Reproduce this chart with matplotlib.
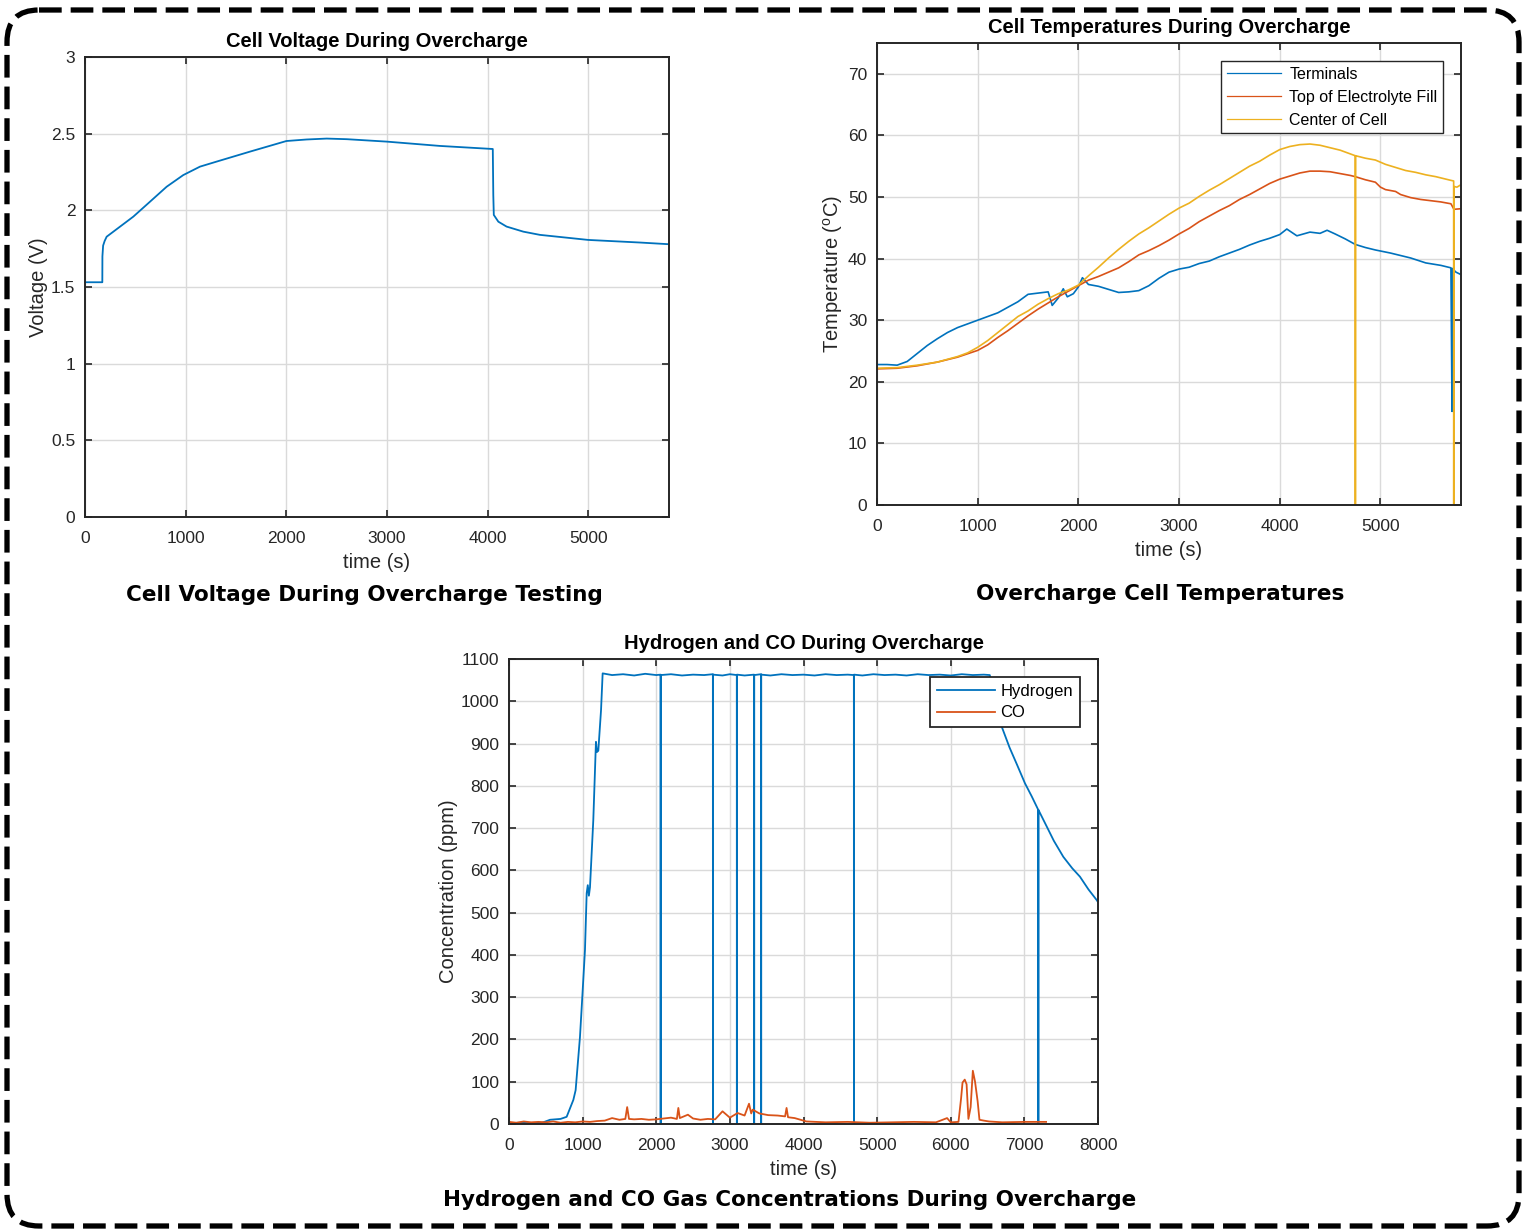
import numpy as np
import matplotlib
matplotlib.use("Agg")
import matplotlib.pyplot as plt
from matplotlib.patches import FancyBboxPatch
from matplotlib.ticker import FormatStrFormatter

plt.rcParams['font.family'] = ['Liberation Sans', 'DejaVu Sans']
plt.rcParams['mathtext.default'] = 'regular'

BLUE = '#0072BD'
RED = '#D95319'
YELLOW = '#EDB120'
DARK = '#262626'

# ---- cell voltage
volt_t = [0, 172, 173, 180, 195, 215, 300, 480, 645, 811, 976, 1142, 1308, 1639,
          2000, 2200, 2400, 2600, 3000, 3525, 4050, 4055, 4060, 4105, 4187, 4353,
          4518, 4998, 5512, 5800]
volt_v = [1.531, 1.531, 1.70, 1.77, 1.80, 1.828, 1.87, 1.959, 2.056, 2.154, 2.230,
          2.285, 2.318, 2.383, 2.452, 2.462, 2.468, 2.464, 2.448, 2.42, 2.40, 2.10,
          1.97, 1.926, 1.894, 1.861, 1.84, 1.807, 1.790, 1.779]

# ---- cell temperatures
term_t = [0, 100, 200, 300, 400, 500, 600, 700, 800, 900, 1000, 1100, 1200, 1300,
          1400, 1500, 1600, 1700, 1740, 1800, 1850, 1890, 1950, 2000, 2040, 2100,
          2200, 2300, 2400, 2500, 2600, 2700, 2800, 2900, 3000, 3100, 3200, 3300,
          3400, 3500, 3600, 3700, 3800, 3900, 4000, 4070, 4170, 4300, 4400, 4470,
          4550, 4650, 4750, 4850, 4950, 5100, 5300, 5450, 5600, 5700, 5711, 5713,
          5750, 5800]
term_v = [22.8, 22.8, 22.7, 23.3, 24.6, 25.9, 27.0, 28.0, 28.8, 29.4, 30.0, 30.6,
          31.2, 32.1, 33.0, 34.2, 34.4, 34.6, 32.4, 33.6, 35.1, 33.8, 34.3, 35.4,
          36.9, 35.8, 35.5, 35.0, 34.5, 34.6, 34.8, 35.6, 36.8, 37.8, 38.3, 38.6,
          39.2, 39.6, 40.3, 40.9, 41.5, 42.2, 42.8, 43.3, 43.9, 44.8, 43.7, 44.3,
          44.1, 44.6, 44.0, 43.2, 42.3, 41.8, 41.4, 40.9, 40.1, 39.3, 38.9, 38.5,
          15.2, 38.4, 37.8, 37.4]

fill_t = [0, 200, 400, 600, 800, 1000, 1100, 1200, 1300, 1400, 1500, 1600, 1700,
          1800, 1900, 2000, 2100, 2200, 2300, 2400, 2500, 2600, 2700, 2800, 2900,
          3000, 3100, 3200, 3300, 3400, 3500, 3600, 3700, 3800, 3900, 4000, 4100,
          4200, 4300, 4400, 4500, 4600, 4700, 4750, 4850, 4950, 5000, 5050, 5150,
          5200, 5300, 5400, 5500, 5600, 5700, 5730, 5800]
fill_v = [22.1, 22.2, 22.6, 23.2, 24.0, 25.1, 26.0, 27.2, 28.3, 29.5, 30.7, 31.8,
          32.8, 33.8, 34.7, 35.6, 36.5, 37.1, 37.8, 38.5, 39.5, 40.6, 41.3, 42.1,
          43.0, 44.0, 44.9, 46.0, 46.9, 47.8, 48.6, 49.6, 50.4, 51.3, 52.2, 52.9,
          53.4, 53.9, 54.2, 54.2, 54.1, 53.8, 53.5, 53.3, 52.8, 52.4, 51.6, 51.2,
          50.9, 50.4, 49.9, 49.6, 49.4, 49.2, 48.9, 48.0, 48.1]

center_t = [0, 200, 400, 600, 800, 900, 1000, 1100, 1200, 1300, 1400, 1500, 1600,
            1700, 1800, 1900, 2000, 2100, 2200, 2300, 2400, 2500, 2600, 2700, 2800,
            2900, 3000, 3100, 3200, 3300, 3400, 3500, 3600, 3700, 3800, 3900, 4000,
            4100, 4200, 4300, 4400, 4500, 4600, 4700, 4750, 4751, 4753, 4850, 4950,
            5050, 5150, 5250, 5350, 5450, 5550, 5650, 5700, 5727, 5728, 5730, 5760,
            5800]
center_v = [22.2, 22.3, 22.7, 23.2, 24.1, 24.7, 25.6, 26.7, 28.0, 29.3, 30.6, 31.5,
            32.6, 33.5, 34.3, 34.9, 35.7, 37.2, 38.6, 40.1, 41.5, 42.8, 44.0, 45.0,
            46.1, 47.2, 48.2, 49.0, 50.1, 51.1, 52.0, 53.0, 54.0, 55.0, 55.8, 56.8,
            57.7, 58.2, 58.5, 58.6, 58.4, 58.0, 57.6, 57.0, 56.7, 0.0, 56.7, 56.3,
            56.0, 55.3, 54.8, 54.3, 54.0, 53.6, 53.3, 52.9, 52.7, 52.6, 0.0, 51.7,
            51.6, 52.0]

# ---- gas concentrations
h2_t = [0, 150, 300, 450, 557, 700, 783, 874, 905, 964, 1001, 1032, 1055, 1070,
        1085, 1100, 1145, 1181, 1195, 1213, 1250, 1272, 1400, 1550, 1700, 1850,
        2000, 2059, 2060, 2061, 2200, 2350, 2500, 2650, 2769, 2770, 2771, 2900,
        3000, 3094, 3095, 3096, 3200, 3329, 3330, 3331, 3424, 3425, 3426, 3550,
        3700, 3850, 4000, 4150, 4300, 4450, 4600, 4684, 4685, 4686, 4800, 4950,
        5100, 5250, 5400, 5550, 5700, 5850, 6000, 6150, 6300, 6450, 6530, 6600,
        6692, 6800, 6900, 7008, 7100, 7189, 7190, 7191, 7300, 7400, 7529, 7650,
        7755, 7870, 7981, 8000]
h2_v = [2, 3, 2, 3, 10, 12, 17, 57, 80, 206, 317, 412, 546, 565, 540, 560, 719,
        904, 880, 883, 979, 1066, 1062, 1064, 1061, 1065, 1062, 1063, 0, 1062,
        1064, 1061, 1063, 1062, 1064, 0, 1063, 1061, 1064, 1062, 0, 1063, 1061,
        1063, 0, 1062, 1064, 0, 1063, 1061, 1064, 1062, 1063, 1061, 1064, 1062,
        1063, 1062, 0, 1063, 1061, 1064, 1062, 1063, 1061, 1064, 1062, 1063, 1061,
        1064, 1062, 1063, 1062, 1010, 940, 890, 850, 806, 775, 743, 0, 743, 705,
        670, 632, 605, 585, 555, 530, 525]

co_t = [0, 100, 200, 300, 400, 500, 600, 700, 800, 900, 1000, 1100, 1200, 1300,
        1400, 1500, 1580, 1605, 1630, 1700, 1800, 1900, 2000, 2100, 2200, 2280,
        2300, 2320, 2430, 2500, 2600, 2700, 2800, 2900, 3000, 3105, 3200, 3260,
        3290, 3310, 3400, 3520, 3650, 3750, 3770, 3790, 3880, 4040, 4300, 4600,
        4900, 5200, 5500, 5800, 5950, 6000, 6105, 6140, 6160, 6190, 6215, 6240,
        6270, 6300, 6330, 6365, 6390, 6450, 6520, 6700, 7000, 7295]
co_v = [5, 3, 6, 4, 5, 4, 6, 3, 5, 4, 6, 5, 7, 8, 14, 10, 12, 40, 12, 11, 12, 10,
        11, 13, 15, 12, 38, 14, 22, 13, 10, 12, 11, 30, 15, 26, 20, 48, 25, 34, 25,
        21, 20, 18, 38, 16, 14, 6, 4, 5, 3, 4, 5, 4, 14, 4, 5, 60, 98, 105, 94, 12,
        40, 126, 100, 54, 10, 8, 6, 4, 5, 5]

W, H = 1524, 1232
fig = plt.figure(figsize=(W / 100, H / 100), dpi=100)


def style(ax):
    ax.grid(True, color='#dadada', lw=1.0)
    ax.set_axisbelow(True)
    for s in ax.spines.values():
        s.set_color(DARK)
        s.set_linewidth(1.4)
    ax.tick_params(direction='in', top=True, right=True, length=5, width=1.2,
                   colors=DARK, labelsize=12.5)
    ax.tick_params(axis='x', pad=10)
    ax.tick_params(axis='y', pad=7)


def axes_px(left, top, right, bottom):
    return fig.add_axes([left / W, 1 - bottom / H, (right - left) / W, (bottom - top) / H])


def labels(ax, xl, yl, title):
    ax.set_xlabel(xl, fontsize=14.5, color=DARK, labelpad=5)
    ax.set_ylabel(yl, fontsize=14.5, color=DARK, labelpad=2)
    ax.set_title(title, fontsize=14.5, fontweight='bold', pad=7)


# background border
bg = fig.add_axes([0, 0, 1, 1], zorder=-5)
bg.set_xlim(0, W)
bg.set_ylim(H, 0)
bg.axis('off')
bg.add_patch(FancyBboxPatch((7, 10), 1512, 1216, boxstyle='round,pad=0,rounding_size=32',
                            fill=False, ec='black', lw=3.8, linestyle=(0, (4.3, 1.7))))

# voltage
ax1 = axes_px(85, 57, 669, 517)
ax1.plot(volt_t, volt_v, color=BLUE, lw=1.3)
ax1.set_xlim(0, 5800)
ax1.set_ylim(0, 3)
ax1.set_xticks([0, 1000, 2000, 3000, 4000, 5000])
ax1.set_yticks([0, 0.5, 1, 1.5, 2, 2.5, 3])
ax1.yaxis.set_major_formatter(FormatStrFormatter('%g'))
labels(ax1, 'time (s)', 'Voltage (V)', 'Cell Voltage During Overcharge')
style(ax1)

# temperatures
ax2 = axes_px(877, 43, 1461, 505)
ax2.plot(term_t, term_v, color=BLUE, lw=1.2, label='Terminals')
ax2.plot(fill_t, fill_v, color=RED, lw=1.2, label='Top of Electrolyte Fill')
ax2.plot(center_t, center_v, color=YELLOW, lw=1.2, label='Center of Cell')
ax2.set_xlim(0, 5800)
ax2.set_ylim(0, 75)
ax2.set_xticks([0, 1000, 2000, 3000, 4000, 5000])
ax2.set_yticks(range(0, 71, 10))
labels(ax2, 'time (s)', 'Temperature ($^{o}$C)', 'Cell Temperatures During Overcharge')
style(ax2)
leg2 = ax2.legend(loc='upper right', bbox_to_anchor=(0.969, 0.961), borderaxespad=0,
                  fontsize=11.5, handlelength=3.4, fancybox=False, framealpha=1,
                  edgecolor=DARK, borderpad=0.35, labelspacing=0.5, handletextpad=0.5)
for l in leg2.get_lines():
    l.set_linewidth(0.9)
leg2.get_frame().set_linewidth(1.0)

# gases
ax3 = axes_px(509, 659, 1098, 1124)
ax3.plot(h2_t, h2_v, color=BLUE, lw=1.3, label='Hydrogen')
ax3.plot(co_t, co_v, color=RED, lw=1.3, label='CO')
ax3.set_xlim(0, 8000)
ax3.set_ylim(0, 1100)
ax3.set_xticks(range(0, 8001, 1000))
ax3.set_yticks(range(0, 1101, 100))
labels(ax3, 'time (s)', 'Concentration (ppm)', 'Hydrogen and CO During Overcharge')
style(ax3)
leg3 = ax3.legend(loc='upper right', bbox_to_anchor=(0.969, 0.961), borderaxespad=0,
                  fontsize=12, handlelength=3.5, fancybox=False, framealpha=1,
                  edgecolor=DARK, borderpad=0.4, labelspacing=0.4, handletextpad=0.3)
leg3.get_frame().set_linewidth(1.3)

# captions
cap = dict(fontsize=15.5, fontweight='bold', family='DejaVu Sans', ha='center', va='center')
fig.text(364 / W, 1 - 595 / H, 'Cell Voltage During Overcharge Testing', **cap)
fig.text(1160 / W, 1 - 594 / H, 'Overcharge Cell Temperatures', **cap)
fig.text(790 / W, 1 - 1200 / H, 'Hydrogen and CO Gas Concentrations During Overcharge', **cap)

fig.savefig('out.png', dpi=100, facecolor='white')
